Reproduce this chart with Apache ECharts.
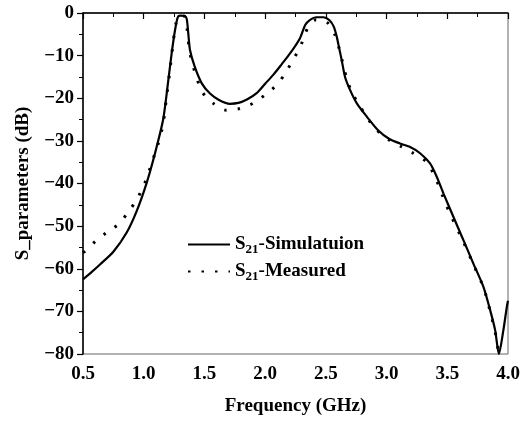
<!DOCTYPE html>
<html><head><meta charset="utf-8">
<script src="https://cdn.jsdelivr.net/npm/echarts@6/dist/echarts.min.js"></script>
<style>html,body{margin:0;padding:0;background:#fff}#c{width:530px;height:422px}</style>
</head><body><div id="c"></div>
<script>
const simFreq = [0.5,0.57,0.64,0.75,0.86,0.942,1.025,1.093,1.16,1.203,1.23,1.258,1.28,1.30,1.34,1.355,1.367,1.381,1.42,1.478,1.546,1.62,1.71,1.78,1.85,1.93,2.0,2.07,2.137,2.205,2.287,2.33,2.37,2.42,2.48,2.53,2.565,2.59,2.61,2.63,2.658,2.70,2.755,2.837,2.93,3.02,3.11,3.19,3.276,3.358,3.413,3.468,3.55,3.633,3.715,3.797,3.853,3.894,3.925,3.962,3.99,4.0];
const simDB = [-62.5,-60.8,-59.0,-56.0,-51.5,-46.5,-39.8,-32.9,-25.0,-15.7,-9.5,-4.0,-1.0,-0.6,-0.7,-1.5,-4.8,-8.7,-12.6,-16.5,-18.9,-20.4,-21.3,-21.1,-20.3,-18.8,-16.6,-14.4,-12.0,-9.5,-5.9,-2.8,-1.6,-1.0,-1.0,-1.7,-3.2,-5.6,-8.3,-11,-15,-18.1,-21.2,-24.3,-27.5,-29.5,-30.6,-31.4,-32.9,-35.3,-38.4,-42.3,-47.8,-53.3,-58.8,-64.2,-69.7,-74.4,-80,-74.4,-69,-67.5];
const measFreq = [0.5,0.516,0.605,0.695,0.79,0.868,0.937,0.997,1.038,1.079,1.12,1.16,1.185,1.216,1.23,1.245,1.265,1.29,1.33,1.35,1.362,1.376,1.40,1.44,1.48,1.573,1.68,1.79,1.90,2.0,2.095,2.164,2.23,2.29,2.33,2.37,2.42,2.51,2.576,2.62,2.67,2.72,2.78,2.837,2.92,3.015,3.125,3.22,3.33,3.385,3.44,3.48,3.53,3.63,3.715,3.80,3.853,3.894,3.925];
const measDB = [-56.2,-55.9,-53.5,-51.5,-49.6,-46.9,-44.0,-40.8,-37.6,-34.1,-30.6,-26.0,-20.4,-13.4,-9.9,-6.3,-2.5,-0.8,-0.7,-2.0,-5,-8.7,-11.8,-15.5,-18.5,-21.2,-22.8,-22.4,-21.2,-19.2,-16.9,-14.2,-11,-7.9,-4.8,-2.5,-1.6,-2.2,-5.2,-9.5,-15.3,-19.0,-21.8,-24.5,-27.5,-29.7,-31.4,-32.9,-34.9,-37.6,-41.2,-44.3,-47.5,-53.5,-59,-64.5,-70,-74.8,-80];
const seriesNames = ['S21-Simulatuion','S21-Measured'];
const xTicks = [0.5,1.0,1.5,2.0,2.5,3.0,3.5,4.0];
const yTicks = [0,-10,-20,-30,-40,-50,-60,-70,-80];

const font = '"Liberation Serif","Times New Roman",serif';
const chart = echarts.init(document.getElementById('c'));
const zip = (a,b)=>a.map((v,i)=>[v,b[i]]);
chart.setOption({
  animation:false,
  grid:{left:83,right:22,top:13,bottom:68,show:true,borderColor:'#666',borderWidth:1},
  xAxis:{type:'value',min:0.5,max:4.0,interval:0.5,
    name:'Frequency (GHz)',nameLocation:'middle',nameGap:43,
    nameTextStyle:{fontFamily:font,fontWeight:'bold',fontSize:19,color:'#000'},
    axisLine:{lineStyle:{color:'#000',width:1.5}},
    axisTick:{inside:false,length:6,lineStyle:{color:'#000',width:1.2}},
    minorTick:{show:true,splitNumber:2,length:4,lineStyle:{color:'#000',width:1}},
    splitLine:{show:false},
    axisLabel:{margin:11,fontFamily:font,fontWeight:'bold',fontSize:19,color:'#000',
      formatter:v=>xTicks.find(t=>Math.abs(t-v)<1e-6)!==undefined?v.toFixed(1):''}},
  yAxis:{type:'value',min:-80,max:0,interval:10,
    name:'S_parameters (dB)',nameLocation:'middle',nameGap:50,
    nameTextStyle:{fontFamily:font,fontWeight:'bold',fontSize:19,color:'#000'},
    axisLine:{lineStyle:{color:'#000',width:1.5}},
    axisTick:{inside:false,length:6,lineStyle:{color:'#000',width:1.2}},
    minorTick:{show:true,splitNumber:2,length:4,lineStyle:{color:'#000',width:1}},
    splitLine:{show:false},
    axisLabel:{margin:9,fontFamily:font,fontWeight:'bold',fontSize:19,color:'#000',
      formatter:v=>yTicks.includes(v)?String(v).replace('-','\u2212'):''}},
  legend:{orient:'vertical',left:182,top:230,itemWidth:42,itemHeight:16,itemGap:6,
    data:seriesNames,
    itemStyle:{opacity:0},
    formatter:n=>'{a|S}{s|21}{a|'+n.slice(3)+'}',
    textStyle:{fontFamily:font,fontWeight:'bold',fontSize:19,color:'#000',
      rich:{a:{fontFamily:font,fontWeight:'bold',fontSize:19,color:'#000'},
            s:{fontFamily:font,fontWeight:'bold',fontSize:13,color:'#000',padding:[10,0,0,0]}}}},
  series:[
    {name:seriesNames[0],type:'line',data:zip(simFreq,simDB),symbol:'none',smooth:0.25,
     lineStyle:{color:'#000',width:2.2},itemStyle:{color:'#000'}},
    {name:seriesNames[1],type:'line',data:zip(measFreq,measDB),symbol:'none',smooth:0.25,
     lineStyle:{color:'#000',width:3,type:[2.5,11]},itemStyle:{color:'#000'}}
  ]
});
</script></body></html>
